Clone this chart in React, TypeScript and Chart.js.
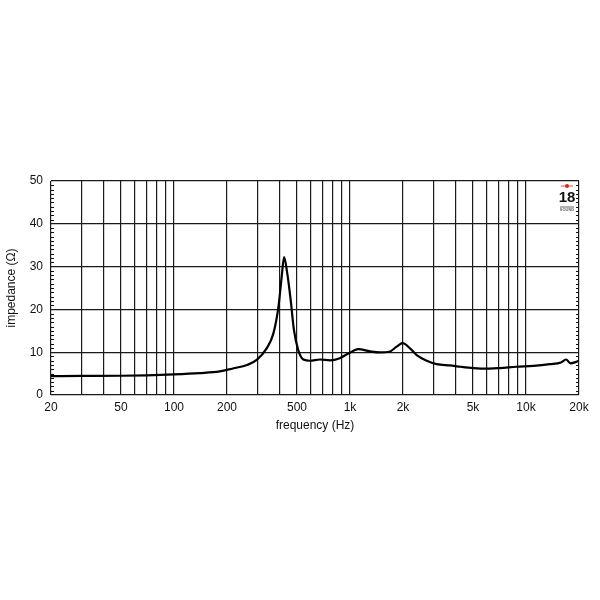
import React, { useEffect, useRef } from "react";
import { Chart, registerables } from "chart.js";

Chart.register(...registerables);

const freqs = [20, 30, 50, 70, 100, 140, 182, 216, 260, 295, 336, 367, 392, 409, 422, 440, 460, 480, 508, 543, 592, 675, 770, 875, 979, 1115, 1300, 1480, 1672, 1842, 1991, 2192, 2393, 2727, 3105, 3697, 4244, 5019, 5973, 7110, 8846, 11000, 13680, 15800, 16880, 17890, 19460, 20000];
const impedance = [4.4, 4.45, 4.5, 4.6, 4.8, 5.1, 5.5, 6.2, 7.0, 8.2, 10.9, 14.4, 20.6, 27.6, 32.2, 28.4, 22.2, 15.2, 10.5, 8.3, 8.0, 8.3, 8.1, 8.6, 9.7, 10.7, 10.2, 9.95, 10.1, 11.3, 12.1, 10.9, 9.3, 8.0, 7.2, 6.9, 6.6, 6.3, 6.15, 6.3, 6.6, 6.8, 7.2, 7.6, 8.3, 7.4, 7.8, 8.0];

const xGridTicks = [20, 30, 40, 50, 60, 70, 80, 90, 100, 200, 300, 400, 500, 600, 700, 800, 900, 1000, 2000, 3000, 4000, 5000, 6000, 7000, 8000, 9000, 10000, 20000];
const xLabelValues = [20, 50, 100, 200, 500, 1000, 2000, 5000, 10000, 20000];
const xLabelTexts = ["20", "50", "100", "200", "500", "1k", "2k", "5k", "10k", "20k"];
const yMajorTicks = [0, 10, 20, 30, 40, 50];
const yMinorStep = 1;

const FONT = "'Liberation Sans', Arial, sans-serif";

const framePlugin = {
  id: "frameExtras",
  afterDraw(chart: any) {
    const { ctx, chartArea } = chart;
    const y = chart.scales.y;
    ctx.save();
    ctx.strokeStyle = "#111";
    ctx.lineWidth = 1;
    for (let v = 0; v <= 50; v += yMinorStep) {
      if (v % 10 === 0) continue;
      const py = Math.round(y.getPixelForValue(v)) + 0.5;
      ctx.beginPath();
      ctx.moveTo(chartArea.left, py);
      ctx.lineTo(chartArea.left + 3, py);
      ctx.moveTo(chartArea.right - 3, py);
      ctx.lineTo(chartArea.right, py);
      ctx.stroke();
    }
    // logo
    const cx = chartArea.right - 12;
    const top = chartArea.top;
    ctx.fillStyle = "#e0241b";
    ctx.beginPath();
    ctx.arc(cx, top + 5, 2, 0, Math.PI * 2);
    ctx.fill();
    ctx.strokeStyle = "#e0241b";
    ctx.lineWidth = 0.8;
    ctx.beginPath();
    ctx.moveTo(cx - 6, top + 5);
    ctx.lineTo(cx + 6, top + 5);
    ctx.stroke();
    ctx.fillStyle = "#111";
    ctx.textAlign = "center";
    ctx.textBaseline = "middle";
    ctx.font = "bold 15px 'Liberation Sans Narrow', 'Liberation Sans', Arial, sans-serif";
    ctx.fillText("18", cx, top + 17);
    ctx.font = "bold 4px 'Liberation Sans', Arial, sans-serif";
    ctx.fillStyle = "#666";
    ctx.fillText("SOUND", cx, top + 29);
    ctx.fillRect(cx - 7, top + 25.5, 14, 1);
    ctx.restore();
  },
};

export default function App() {
  const ref = useRef<HTMLCanvasElement | null>(null);

  useEffect(() => {
    if (!ref.current) return;
    const chart = new Chart(ref.current, {
      type: "line",
      data: {
        datasets: [
          {
            data: freqs.map((f, i) => ({ x: f, y: impedance[i] })),
            borderColor: "#000",
            borderWidth: 2.2,
            pointRadius: 0,
            cubicInterpolationMode: "monotone",
            fill: false,
          },
        ],
      },
      options: {
        animation: false,
        responsive: false,
        maintainAspectRatio: false,
        layout: { padding: { top: 181, right: 21, left: 0, bottom: 167 } },
        plugins: { legend: { display: false }, tooltip: { enabled: false } },
        scales: {
          x: {
            type: "logarithmic",
            min: 20,
            max: 20000,
            afterBuildTicks: (axis: any) => {
              axis.ticks = xGridTicks.map((v) => ({ value: v }));
            },
            afterFit: (axis: any) => {
              axis.height = 38;
            },
            ticks: {
              autoSkip: false,
              maxRotation: 0,
              minRotation: 0,
              padding: 5,
              color: "#111",
              font: { family: FONT, size: 12 },
              callback: (v: any) => {
                const i = xLabelValues.indexOf(Number(v));
                return i >= 0 ? xLabelTexts[i] : "";
              },
            },
            grid: { color: "#1a1a1a", lineWidth: 1.2, drawTicks: false },
            border: { display: false },
            title: {
              display: true,
              text: "frequency (Hz)",
              color: "#111",
              font: { family: FONT, size: 12 },
              padding: { top: 3, bottom: 0 },
            },
          },
          y: {
            min: 0,
            max: 50,
            afterBuildTicks: (axis: any) => {
              axis.ticks = yMajorTicks.map((v) => ({ value: v }));
            },
            afterFit: (axis: any) => {
              axis.width = 51;
            },
            ticks: {
              padding: 8,
              color: "#111",
              font: { family: FONT, size: 12 },
            },
            grid: { color: "#1a1a1a", lineWidth: 1.2, drawTicks: false },
            border: { display: false },
            title: {
              display: true,
              text: "impedance (Ω)",
              color: "#111",
              font: { family: FONT, size: 12 },
              padding: { top: 4, bottom: 0 },
            },
          },
        },
      },
      plugins: [framePlugin],
    } as any);
    return () => chart.destroy();
  }, []);

  return (
    <div style={{ position: "fixed", left: 0, top: 0, width: 600, height: 600, background: "#fff" }}>
      <canvas ref={ref} width={600} height={600} style={{ width: 600, height: 600 }} />
    </div>
  );
}
